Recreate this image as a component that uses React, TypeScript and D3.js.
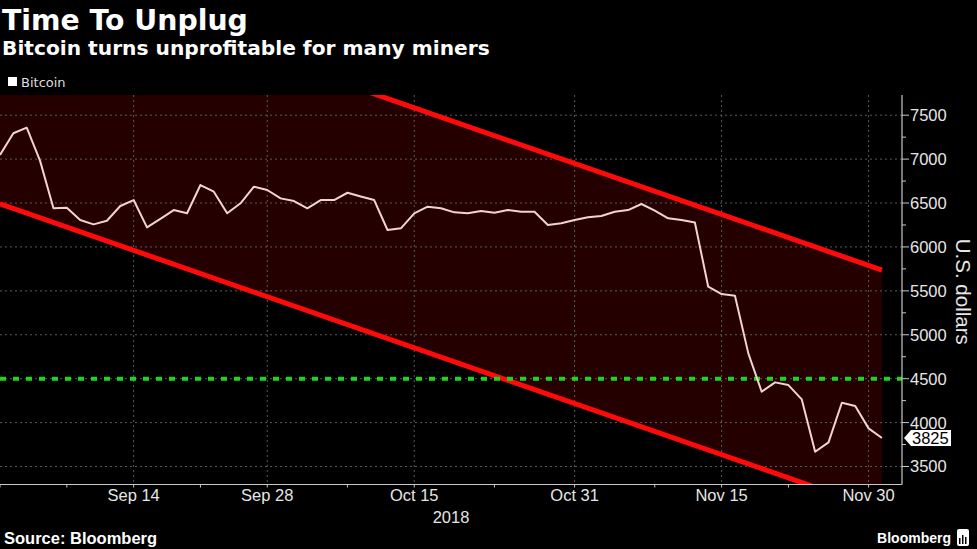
import React from 'react';
import * as d3 from 'd3';

// Weekday observations (Bloomberg daily, weekdays only)
const dates: string[] = [
  '2018-08-31',
  '2018-09-03', '2018-09-04', '2018-09-05', '2018-09-06', '2018-09-07',
  '2018-09-10', '2018-09-11', '2018-09-12', '2018-09-13', '2018-09-14',
  '2018-09-17', '2018-09-18', '2018-09-19', '2018-09-20', '2018-09-21',
  '2018-09-24', '2018-09-25', '2018-09-26', '2018-09-27', '2018-09-28',
  '2018-10-01', '2018-10-02', '2018-10-03', '2018-10-04', '2018-10-05',
  '2018-10-08', '2018-10-09', '2018-10-10', '2018-10-11', '2018-10-12',
  '2018-10-15', '2018-10-16', '2018-10-17', '2018-10-18', '2018-10-19',
  '2018-10-22', '2018-10-23', '2018-10-24', '2018-10-25', '2018-10-26',
  '2018-10-29', '2018-10-30', '2018-10-31', '2018-11-01', '2018-11-02',
  '2018-11-05', '2018-11-06', '2018-11-07', '2018-11-08', '2018-11-09',
  '2018-11-12', '2018-11-13', '2018-11-14', '2018-11-15', '2018-11-16',
  '2018-11-19', '2018-11-20', '2018-11-21', '2018-11-22', '2018-11-23',
  '2018-11-26', '2018-11-27', '2018-11-28', '2018-11-29', '2018-11-30',
  '2018-12-03',
];

const bitcoin: number[] = [
  7047,
  7294, 7358, 6980, 6440, 6447,
  6306, 6257, 6298, 6466, 6534,
  6223, 6320, 6420, 6383, 6705,
  6629, 6383, 6497, 6686, 6648,
  6553, 6523, 6440, 6534, 6534,
  6617, 6575, 6534, 6193, 6212,
  6383, 6458, 6440, 6394, 6383,
  6409, 6390, 6420, 6401, 6401,
  6250, 6269, 6306, 6337, 6352,
  6401, 6420, 6489, 6413, 6326,
  6306, 6278, 5547, 5464, 5444,
  4788, 4351, 4458, 4427, 4264,
  3668, 3775, 4226, 4188, 3934,
  3825,
];

const yTicks: number[] = [3500, 4000, 4500, 5000, 5500, 6000, 6500, 7000, 7500];
const yMinorTicks: number[] = [3750, 4250, 4750, 5250, 5750, 6250, 6750, 7250];
const majorTickDates: string[] = ['2018-09-14', '2018-09-28', '2018-10-15', '2018-10-31', '2018-11-15', '2018-11-30'];
const minorTickDates: string[] = ['2018-08-31', '2018-09-07', '2018-09-21', '2018-10-08', '2018-10-23', '2018-11-08', '2018-11-22'];
const yearLabel = '2018';

// Trend channel endpoints (first and last observation)
const channelDates: string[] = ['2018-08-31', '2018-12-03'];
const channelUpper: number[] = [9220, 5737];
const channelLower: number[] = [6490, 3000];
const breakEven = 4500;
const lastValue = 3825;

const AXIS_FONT = '"Liberation Sans", Arial, sans-serif';
const TITLE_FONT = '"DejaVu Sans", Verdana, sans-serif';

export default function App() {
  const W = 977, H = 549;
  const left = 0, right = 902, top = 95, bottom = 484.5;

  const x = d3.scaleLinear().domain([0, 67.5]).range([left, right]);
  const y = d3.scaleLinear().domain([3295, 7730]).range([bottom, top]);
  const idx = (d: string) => dates.indexOf(d);
  const fmt = d3.timeFormat('%b %-d');
  const parse = d3.timeParse('%Y-%m-%d');

  const priceLine = d3.line<number>().x((_, i) => x(i)).y(d => y(d))(bitcoin) || '';
  const chIdx = channelDates.map(idx);
  const channelArea = d3.area<number>()
    .x(d => x(d))
    .y0((_, k) => y(channelLower[k]))
    .y1((_, k) => y(channelUpper[k]))(chIdx) || '';
  const upperLine = d3.line<number>().x(d => x(d)).y((_, k) => y(channelUpper[k]))(chIdx) || '';
  const lowerLine = d3.line<number>().x(d => x(d)).y((_, k) => y(channelLower[k]))(chIdx) || '';

  const ly = y(lastValue);

  return (
    <svg width={W} height={H} style={{ position: 'absolute', left: 0, top: 0, background: '#000' }}>
      <defs>
        <clipPath id="plot">
          <rect x={left} y={top} width={right - left} height={bottom - top} />
        </clipPath>
      </defs>
      <rect x={0} y={0} width={W} height={H} fill="#000" />

      {/* Titles */}
      <text x={2} y={30} fill="#fff" fontFamily={TITLE_FONT} fontWeight="bold" fontSize={28.3}>Time To Unplug</text>
      <text x={2} y={55} fill="#fff" fontFamily={TITLE_FONT} fontWeight="bold" fontSize={20.2}>Bitcoin turns unprofitable for many miners</text>

      {/* Legend */}
      <rect x={8} y={77} width={9} height={9} fill="#fff" />
      <text x={21} y={87} fill="#ddd" fontFamily={TITLE_FONT} fontSize={13}>Bitcoin</text>

      <g clipPath="url(#plot)">
        <path d={channelArea} fill="#250000" />
        {/* grid */}
        {yTicks.map(t => (
          <line key={'gy' + t} x1={left} x2={right} y1={y(t)} y2={y(t)} stroke="#5a5a5a" strokeWidth={1} strokeDasharray="2,3" />
        ))}
        {majorTickDates.map(d => (
          <line key={'gx' + d} x1={x(idx(d))} x2={x(idx(d))} y1={top} y2={bottom} stroke="#5a5a5a" strokeWidth={1} strokeDasharray="2,3" />
        ))}
        <path d={upperLine} fill="none" stroke="#ff0a0a" strokeWidth={5} />
        <path d={lowerLine} fill="none" stroke="#ff0a0a" strokeWidth={5} />
        <line x1={left} x2={right} y1={y(breakEven)} y2={y(breakEven)} stroke="#1fd31f" strokeWidth={4} strokeDasharray="6,7" />
        <path d={priceLine} fill="none" stroke="#f3d2d2" strokeWidth={2} strokeLinejoin="round" />
      </g>

      {/* Right axis */}
      <line x1={right} x2={right} y1={top} y2={bottom} stroke="#c8c8c8" strokeWidth={1.2} />
      {yMinorTicks.map(t => (
        <line key={'ym' + t} x1={right} x2={right + 4} y1={y(t)} y2={y(t)} stroke="#c8c8c8" strokeWidth={1} />
      ))}
      {yTicks.map(t => (
        <g key={'yt' + t}>
          <line x1={right} x2={right + 7} y1={y(t)} y2={y(t)} stroke="#c8c8c8" strokeWidth={1} />
          <text x={right + 8} y={y(t) + 6} fill="#e6e6e6" fontFamily={AXIS_FONT} fontSize={16.5}>{t}</text>
        </g>
      ))}
      <text transform={`translate(956,${(top + bottom) / 2 + 2}) rotate(90)`} textAnchor="middle" fill="#e6e6e6" fontFamily={AXIS_FONT} fontSize={20.5}>U.S. dollars</text>

      {/* Last value tag */}
      <path d={`M${right + 2},${ly} L${right + 9},${ly - 8} L${right + 49},${ly - 8} L${right + 49},${ly + 8} L${right + 9},${ly + 8} Z`} fill="#fff" />
      <text x={right + 10} y={ly + 6} fill="#000" fontFamily={AXIS_FONT} fontSize={16.5}>{lastValue}</text>

      {/* Bottom axis */}
      <line x1={left} x2={right} y1={bottom} y2={bottom} stroke="#c8c8c8" strokeWidth={1.2} />
      {majorTickDates.concat(minorTickDates).map(d => (
        <line key={'xt' + d} x1={x(idx(d))} x2={x(idx(d))} y1={bottom} y2={bottom + 3} stroke="#c8c8c8" strokeWidth={1} />
      ))}
      {majorTickDates.map(d => (
        <text key={'xl' + d} x={x(idx(d))} y={501} textAnchor="middle" fill="#e6e6e6" fontFamily={AXIS_FONT} fontSize={16.5}>{fmt(parse(d) as Date)}</text>
      ))}
      <text x={(left + right) / 2} y={523} textAnchor="middle" fill="#e6e6e6" fontFamily={AXIS_FONT} fontSize={16.5}>{yearLabel}</text>

      {/* Footer */}
      <text x={4} y={544} fill="#fff" fontFamily={AXIS_FONT} fontWeight="bold" fontSize={16.5}>Source: Bloomberg</text>
      <text x={951} y={543} textAnchor="end" fill="#fff" fontFamily={AXIS_FONT} fontWeight="bold" fontSize={14}>Bloomberg</text>
      <g>
        <rect x={957} y={529} width={12} height={17} rx={2} fill="#fff" />
        <rect x={959} y={538} width={1.5} height={6} fill="#000" />
        <rect x={962} y={535} width={1.5} height={9} fill="#000" />
        <rect x={965} y={537} width={1.5} height={7} fill="#000" />
      </g>
    </svg>
  );
}
